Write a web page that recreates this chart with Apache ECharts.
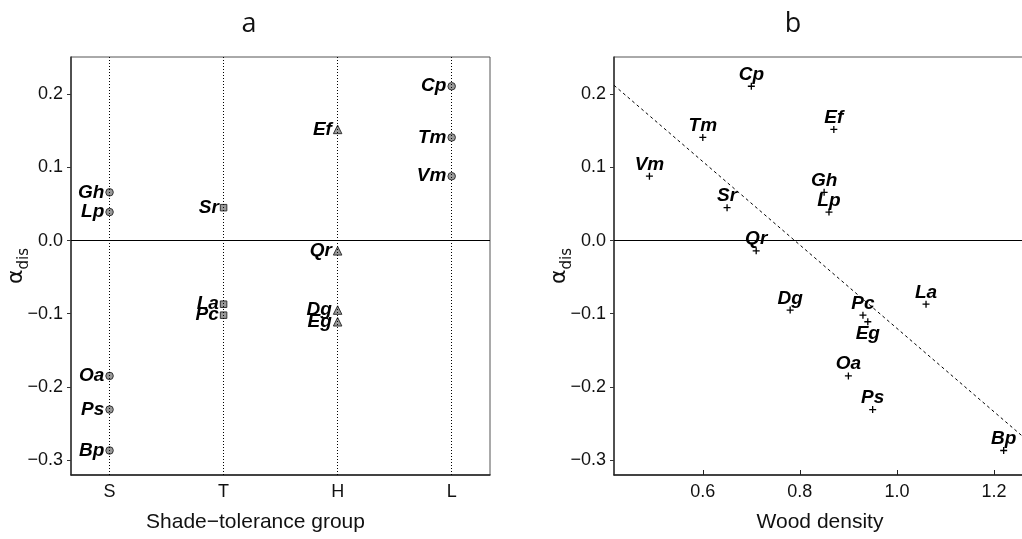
<!DOCTYPE html>
<html>
<head>
<meta charset="utf-8">
<script src="https://cdn.jsdelivr.net/npm/echarts@6/dist/echarts.min.js"></script>
<style>html,body{margin:0;padding:0;background:#fff}#c{width:1022px;height:539px}</style>
</head>
<body>
<div id="c"></div>
<script>
// ---- data ----
const species      = ['Bp','Cp','Dg','Ef','Eg','Gh','La','Lp','Oa','Pc','Ps','Qr','Sr','Tm','Vm'];
const alphaDis     = [-0.287, 0.211, -0.095, 0.152, -0.111, 0.066, -0.087, 0.039, -0.185, -0.102, -0.231, -0.014, 0.045, 0.141, 0.088];
const shadeGroup   = ['S','L','H','H','H','S','T','S','S','T','S','H','T','L','L'];
const woodDensity  = [1.22, 0.70, 0.78, 0.87, 0.94, 0.85, 1.06, 0.86, 0.90, 0.93, 0.95, 0.71, 0.65, 0.60, 0.49];
const groupCategories = ['S','T','H','L'];
const yTicks       = [-0.3, -0.2, -0.1, 0.0, 0.1, 0.2];
const densityTicks = [0.6, 0.8, 1.0, 1.2];
const fitIntercept = 0.45;
const fitSlope     = -0.57;
const labelsBelowInB = ['Eg'];

// ---- layout / style ----
const FONT = "'Liberation Sans', Arial, sans-serif";
const yRange = [-0.3205, 0.251];
const xRangeA = [0.662, 4.336];
const xRangeB = [0.417, 1.266];
const groupSymbol = {S:'circle', L:'circle', T:'rect', H:'triangle'};
const groupSize = {S:7.5, L:7.5, T:6.5, H:8.5};

const fmtY = v => (Math.abs(v) < 1e-9 ? '0.0' : (v < 0 ? '\u2212' : '') + Math.abs(v).toFixed(1));

function yAxisFor(gi) {
  return {
    gridIndex: gi, type: 'value', min: yRange[0], max: yRange[1],
    splitLine: {show: false},
    axisLine: {show: true, onZero: false, lineStyle: {color: '#333', width: 1.5}},
    axisTick: {show: true, length: 4, customValues: yTicks, lineStyle: {color: '#333'}},
    axisLabel: {customValues: yTicks, formatter: fmtY, fontSize: 18, color: '#111', fontFamily: FONT, margin: 8},
    name: '{a|\u03b1}{s|dis}', nameLocation: 'middle', nameRotate: 90, nameGap: 39, nameMoveOverlap: false,
    nameTextStyle: {
      color: '#111',
      rich: {
        a: {fontSize: 22, fontFamily: "'DejaVu Sans', sans-serif", color: '#111', padding: [0, 0, 5, 0], verticalAlign: 'bottom'},
        s: {fontSize: 15, fontFamily: "'DejaVu Sans', sans-serif", color: '#111', verticalAlign: 'bottom'}
      }
    }
  };
}

const labelStyle = {fontStyle: 'italic', fontWeight: 'bold', fontSize: 19, color: '#000', fontFamily: FONT};

const dataA = species.map((s, i) => ({
  name: s,
  value: [groupCategories.indexOf(shadeGroup[i]) + 1, alphaDis[i]],
  symbol: groupSymbol[shadeGroup[i]],
  symbolSize: groupSize[shadeGroup[i]]
}));
const dataB = species.map((s, i) => {
  const d = {name: s, value: [woodDensity[i], alphaDis[i]]};
  if (labelsBelowInB.includes(s)) d.label = {position: 'bottom'};
  return d;
});
const fitLine = xRangeB.map(x => [x, fitIntercept + fitSlope * x]);

const option = {
  animation: false,
  backgroundColor: '#fff',
  graphic: [
    {type: 'text', x: 249, y: 38, style: {text: 'a', fontSize: 27, fontFamily: "'Open Sans', 'Noto Sans', sans-serif", fill: '#111', textAlign: 'center', textVerticalAlign: 'bottom'}},
    {type: 'text', x: 793, y: 38, style: {text: 'b', fontSize: 27, fontFamily: "'Open Sans', 'Noto Sans', sans-serif", fill: '#111', textAlign: 'center', textVerticalAlign: 'bottom'}}
  ],
  grid: [
    {left: 71, top: 57, width: 419, height: 418, containLabel: false, outerBoundsMode: 'none', show: true, borderColor: '#555', borderWidth: 1, backgroundColor: 'transparent'},
    {left: 614, top: 57, width: 412, height: 418, containLabel: false, outerBoundsMode: 'none', show: true, borderColor: '#555', borderWidth: 1, backgroundColor: 'transparent'}
  ],
  xAxis: [
    {
      gridIndex: 0, type: 'value', min: xRangeA[0], max: xRangeA[1],
      splitLine: {show: false},
      axisLine: {show: true, onZero: false, lineStyle: {color: '#222', width: 1.5}},
      axisTick: {show: false},
      axisLabel: {customValues: [1, 2, 3, 4], formatter: v => groupCategories[Math.round(v) - 1], fontSize: 18, color: '#111', fontFamily: FONT, margin: 8},
      name: 'Shade\u2212tolerance group', nameLocation: 'middle', nameGap: 37, nameMoveOverlap: false,
      nameTextStyle: {fontSize: 21, color: '#111', fontFamily: FONT, padding: [0, 50, 0, 0]}
    },
    {
      gridIndex: 1, type: 'value', min: xRangeB[0], max: xRangeB[1],
      splitLine: {show: false},
      axisLine: {show: true, onZero: false, lineStyle: {color: '#222', width: 1.5}},
      axisTick: {show: true, inside: true, length: 5, customValues: densityTicks, lineStyle: {color: '#222'}},
      axisLabel: {customValues: densityTicks, formatter: v => v.toFixed(1), fontSize: 18, color: '#111', fontFamily: FONT, margin: 8},
      name: 'Wood density', nameLocation: 'middle', nameGap: 37, nameMoveOverlap: false,
      nameTextStyle: {fontSize: 21, color: '#111', fontFamily: FONT}
    }
  ],
  yAxis: [yAxisFor(0), yAxisFor(1)],
  series: [
    {
      type: 'scatter', xAxisIndex: 0, yAxisIndex: 0, data: dataA,
      itemStyle: {color: '#999', borderColor: '#333', borderWidth: 1, opacity: 1},
      label: Object.assign({show: true, position: 'left', distance: 1, formatter: '{b}'}, labelStyle),
      markLine: {
        silent: true, symbol: 'none', label: {show: false},
        lineStyle: {color: '#000', width: 1},
        data: groupCategories.map((g, i) => ({xAxis: i + 1, lineStyle: {type: [1, 2], color: '#000', width: 1}}))
          .concat([{yAxis: 0, lineStyle: {type: 'solid', color: '#000', width: 1}}])
      },
      z: 3
    },
    {
      type: 'scatter', xAxisIndex: 1, yAxisIndex: 1, data: dataB,
      symbol: 'path://M5,0L5,10M0,5L10,5', symbolSize: 7,
      itemStyle: {color: '#000', borderColor: '#000', borderWidth: 1.3, opacity: 1},
      label: Object.assign({show: true, position: 'top', distance: -2, formatter: '{b}'}, labelStyle),
      markLine: {
        silent: true, symbol: 'none', label: {show: false},
        data: [{yAxis: 0, lineStyle: {type: 'solid', color: '#000', width: 1}}]
      },
      z: 3
    },
    {
      type: 'line', xAxisIndex: 1, yAxisIndex: 1, data: fitLine,
      symbol: 'none', clip: true, silent: true,
      lineStyle: {color: '#000', width: 1, type: [3, 3]},
      z: 2
    }
  ]
};

const chart = echarts.init(document.getElementById('c'), null, {renderer: 'canvas'});
chart.setOption(option);
</script>
</body>
</html>
